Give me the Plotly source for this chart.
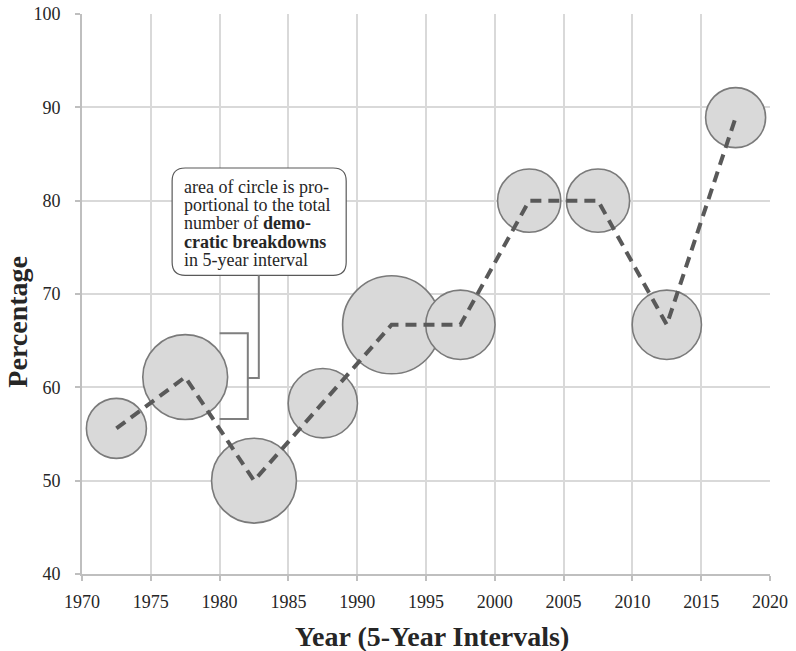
import plotly.graph_objects as go

# ---- data ----
years = [1972.5, 1977.5, 1982.5, 1987.5, 1992.5, 1997.5, 2002.5, 2007.5, 2012.5, 2017.5]
percent = [55.6, 61.1, 50.0, 58.3, 66.7, 66.7, 80.0, 80.0, 66.7, 88.9]
breakdowns = [9, 18, 18, 12, 24, 12, 10, 10, 12, 9]
x_ticks = [1970, 1975, 1980, 1985, 1990, 1995, 2000, 2005, 2010, 2015, 2020]
y_ticks = [40, 50, 60, 70, 80, 90, 100]
note_lines = [
    "area of circle is pro-",
    "portional to the total",
    "number of <b>demo-</b>",
    "<b>cratic breakdowns</b>",
    "in 5-year interval",
]
x_title = "Year (5-Year Intervals)"
y_title = "Percentage"

FONT = "Liberation Serif"
TXT = "#262626"
GRID = "#d9d9d9"
AXIS = "#bfbfbf"

fig = go.Figure()

fig.add_trace(go.Scatter(
    x=years, y=percent, mode="markers",
    marker=dict(size=breakdowns, sizemode="area", sizeref=0.005,
                color="#d9d9d9", opacity=1,
                line=dict(color="#7a7a7a", width=1.6)),
    hoverinfo="skip", showlegend=False,
))
fig.add_trace(go.Scatter(
    x=years, y=percent, mode="lines",
    line=dict(color="#595959", width=4, dash="11px,7px"),
    hoverinfo="skip", showlegend=False,
))

# rounded note box
bx0, bx1, by0, by1 = 1976.55, 1989.2, 72.0, 83.5
rx, ry = 0.95, 1.4
path = (f"M {bx0+rx},{by1} L {bx1-rx},{by1} Q {bx1},{by1} {bx1},{by1-ry} "
        f"L {bx1},{by0+ry} Q {bx1},{by0} {bx1-rx},{by0} "
        f"L {bx0+rx},{by0} Q {bx0},{by0} {bx0},{by0+ry} "
        f"L {bx0},{by1-ry} Q {bx0},{by1} {bx0+rx},{by1} Z")
shapes = [dict(type="path", path=path, xref="x", yref="y",
               line=dict(color="#595959", width=1.2), fillcolor="white", layer="above")]

# bracket + leader
bl = dict(color="#7f7f7f", width=2)
br_x0, br_x1, br_xs = 1980.0, 1982.05, 1982.85
br_top, br_bot, br_mid = 65.8, 56.6, 61.0
shapes += [
    dict(type="path", xref="x", yref="y", line=bl, layer="above",
         path=f"M {br_x0},{br_top} L {br_x1},{br_top} L {br_x1},{br_bot} L {br_x0},{br_bot}"),
    dict(type="path", xref="x", yref="y", line=bl, layer="above",
         path=f"M {br_x1},{br_mid} L {br_xs},{br_mid} L {br_xs},{by0}"),
]

annotations = []
y_line, step = 81.5, 1.97
for i, t in enumerate(note_lines):
    annotations.append(dict(x=1977.3, y=y_line - i * step, xref="x", yref="y",
                            text=t, showarrow=False, xanchor="left", yanchor="middle",
                            font=dict(family=FONT, size=18, color=TXT)))

# axis titles placed as annotations
annotations.append(dict(x=0.5087, y=-0.111, xref="paper", yref="paper",
                        text=f"<b>{x_title}</b>", showarrow=False,
                        xanchor="center", yanchor="middle",
                        font=dict(family=FONT, size=28, color=TXT)))
annotations.append(dict(x=-0.095, y=0.45, xref="paper", yref="paper",
                        text=f"<b>{y_title}</b>", showarrow=False, textangle=-90,
                        xanchor="center", yanchor="middle",
                        font=dict(family=FONT, size=28, color=TXT)))

axis_common = dict(showgrid=True, gridcolor=GRID, gridwidth=2,
                   showline=True, linecolor=AXIS, linewidth=2,
                   ticks="outside", ticklen=5, tickcolor=AXIS, tickwidth=2,
                   tickfont=dict(family=FONT, size=18, color=TXT),
                   zeroline=False, automargin=False)

fig.update_layout(
    width=796, height=651,
    margin=dict(l=82, r=26, t=14, b=77),
    paper_bgcolor="white", plot_bgcolor="white",
    shapes=shapes, annotations=annotations,
    font=dict(family=FONT, color=TXT),
    xaxis=dict(range=[1970, 2020], tickvals=x_ticks, ticktext=[str(v) for v in x_ticks],
               ticklabelstandoff=5, **axis_common),
    yaxis=dict(range=[40, 100], tickvals=y_ticks, ticktext=[str(v) for v in y_ticks],
               ticklabelstandoff=11, **axis_common),
)

fig.write_html("out.html", config={"displayModeBar": False},
               post_script="document.body.style.margin='0';document.body.style.padding='0';")
